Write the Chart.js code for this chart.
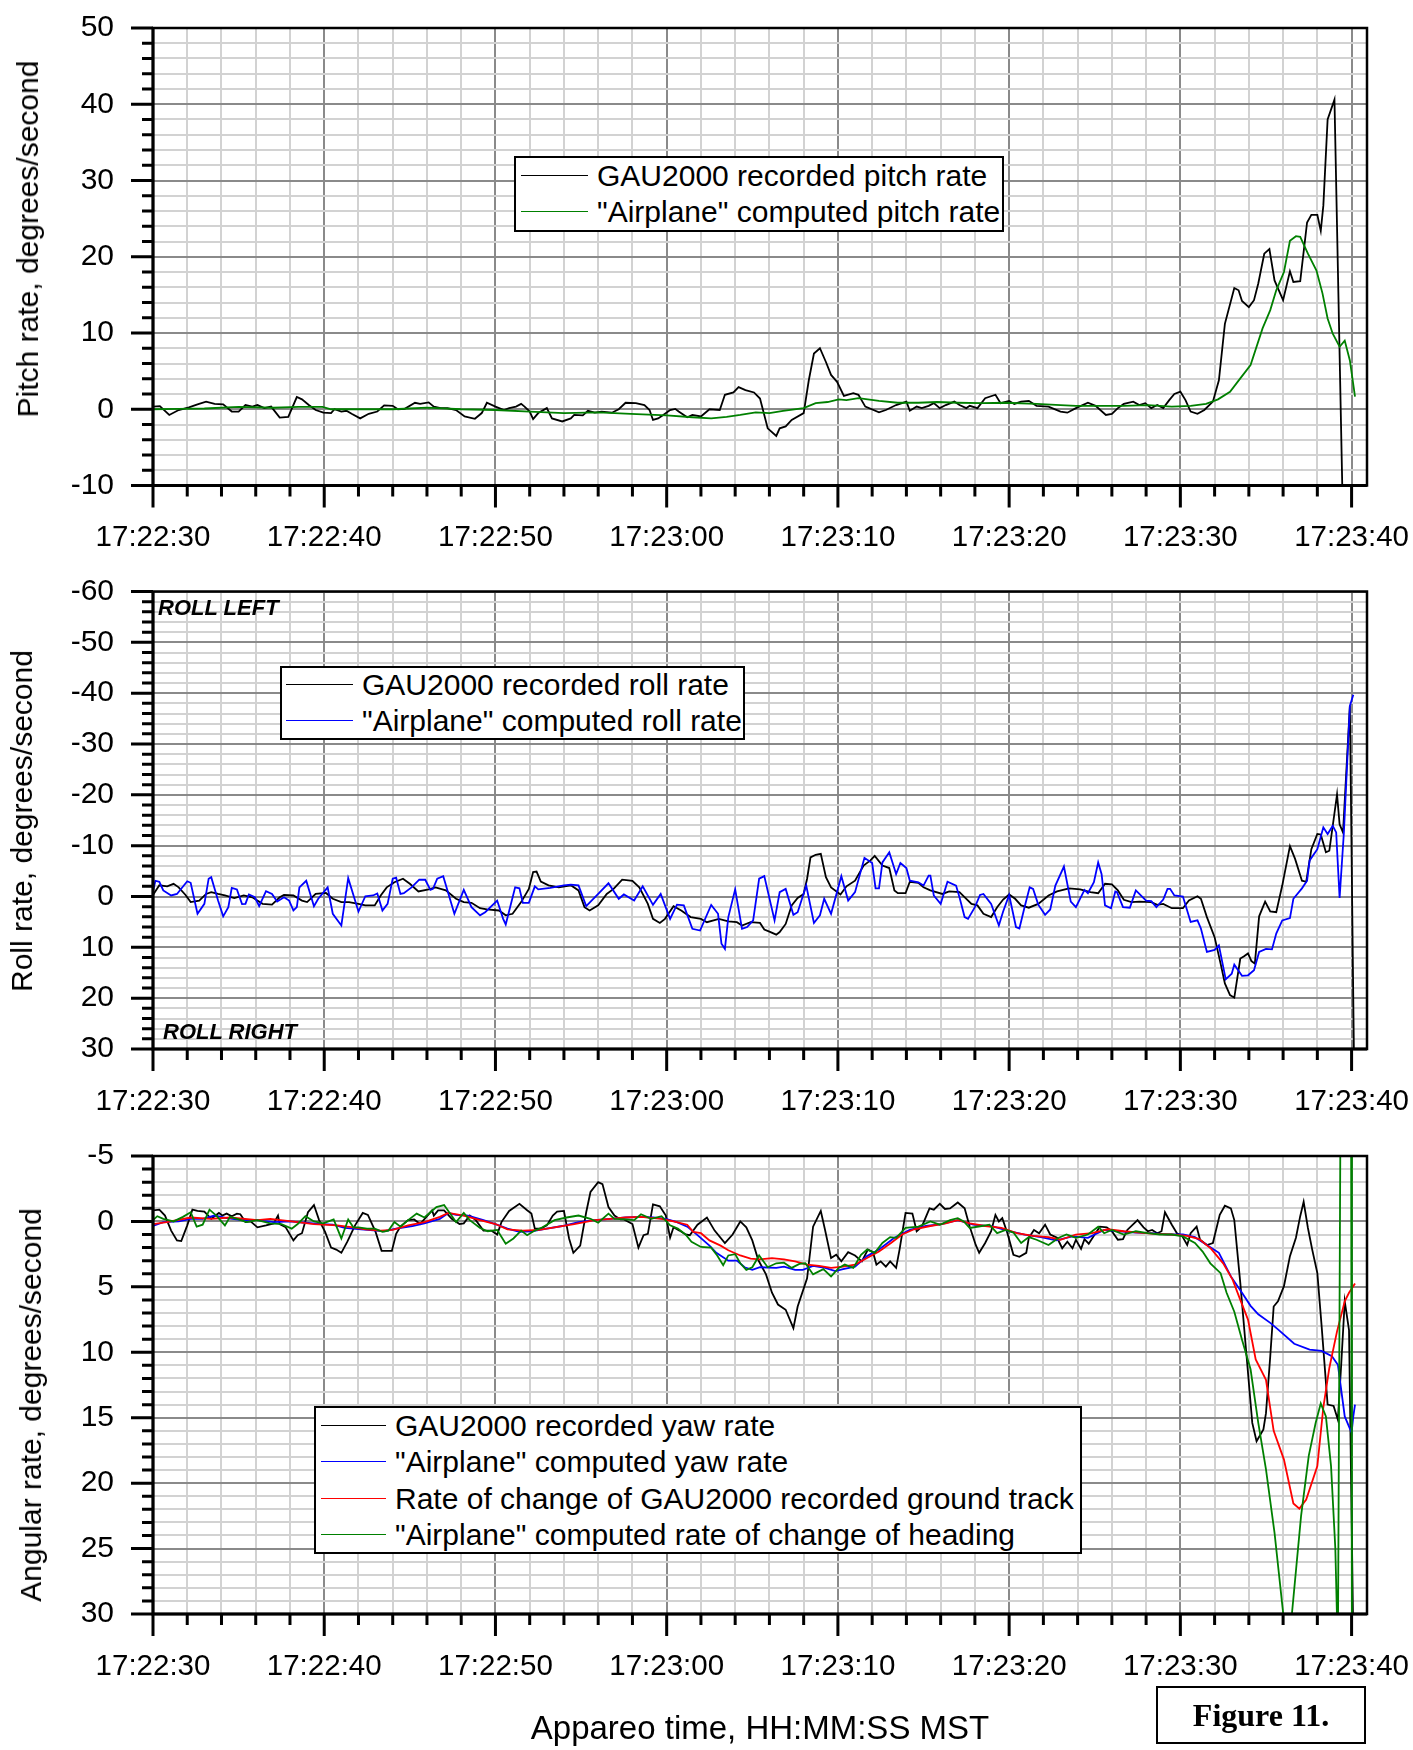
<!DOCTYPE html>
<html>
<head>
<meta charset="utf-8">
<script src="https://cdn.jsdelivr.net/npm/chart.js@4.4.0/dist/chart.umd.min.js"></script>
<style>
  body { margin: 0; background: #fff; }
  #page { position: relative; width: 1413px; height: 1750px; overflow: hidden; font-family: Arial, "Liberation Sans", sans-serif; }
  canvas { position: absolute; left: 0; }
  .legend { position: absolute; background: #fff; border: 2px solid #000; box-sizing: border-box; z-index: 2; }
  .legend .swatch { position: absolute; height: 0; border-top: 1.5px solid #000; }
  .legend .txt { position: absolute; height: 36px; line-height: 36px; font-size: 30px; white-space: nowrap; color: #000; }
  .note { position: absolute; font: italic bold 22px Arial, "Liberation Sans", sans-serif; line-height: 22px; white-space: nowrap; z-index: 2; }
  .ytitle { position: absolute; font-size: 30px; line-height: 30px; white-space: nowrap; transform: translate(-50%, -50%) rotate(-90deg); }
  #fig { position: absolute; left: 1156px; top: 1686px; width: 210px; height: 58px; border: 2px solid #000; box-sizing: border-box;
         font: bold 32px "Liberation Serif", "Times New Roman", serif; text-align: center; line-height: 54px; }
</style>
</head>
<body>
<div id="page">
  <canvas id="pitchChart" width="1413" height="560" style="top:0px"></canvas>
  <canvas id="rollChart" width="1413" height="565" style="top:560px"></canvas>
  <canvas id="yawChart" width="1413" height="625" style="top:1125px"></canvas>
  <div class="note" style="left:158px;top:597px">ROLL LEFT</div>
  <div class="note" style="left:163px;top:1021px">ROLL RIGHT</div>
  <div id="fig">Figure 11.</div>
</div>
<script>
// time in seconds after 17:22:30
const timeTickLabels = ["17:22:30", "17:22:40", "17:22:50", "17:23:00", "17:23:10", "17:23:20", "17:23:30", "17:23:40"]
const X_MAX = 70.9
const FONT = 'Arial, "Liberation Sans", sans-serif'

// pitch rate, deg/s
const pitchGau = [[0,0.35],[0.4,0.4],[0.95,-0.75],[1.5,-0.1],[2.1,0.25],[2.6,0.65],[3.1,1.0],[3.6,0.7],[4.1,0.65],[4.6,-0.3],[5.0,-0.3],[5.4,0.55],[5.8,0.35],[6.1,0.55],[6.5,0.15],[6.9,0.35],[7.4,-1.1],[7.9,-1.0],[8.4,1.6],[8.7,1.3],[9.1,0.55],[9.5,-0.1],[9.95,-0.45],[10.4,-0.5],[10.6,0],[11.0,-0.3],[11.3,-0.2],[11.6,-0.6],[12.1,-1.2],[12.6,-0.6],[13.1,-0.3],[13.5,0.5],[14.0,0.45],[14.3,0],[14.7,0.05],[15.3,0.85],[15.6,0.7],[16.1,0.9],[16.4,0.35],[16.8,0.15],[17.2,0.15],[17.7,-0.1],[18.2,-0.95],[18.8,-1.25],[19.2,-0.5],[19.5,0.85],[20.0,0.35],[20.5,-0.1],[20.8,0.15],[21.2,0.35],[21.5,0.7],[21.7,0.35],[22.0,-0.3],[22.2,-1.3],[22.5,-0.5],[23.0,0.15],[23.3,-1.2],[23.9,-1.6],[24.4,-1.2],[24.6,-0.75],[25.1,-0.8],[25.4,-0.2],[25.8,-0.45],[26.2,-0.3],[26.8,-0.45],[27.2,0],[27.6,0.85],[28.2,0.8],[28.7,0.55],[29.0,-0.1],[29.2,-1.4],[29.5,-1.2],[29.8,-0.75],[30.2,-0.1],[30.5,0.05],[30.7,-0.3],[31.2,-1.05],[31.5,-0.75],[32.0,-0.95],[32.5,0],[33.1,-0.1],[33.4,1.9],[33.9,2.2],[34.2,2.9],[34.6,2.5],[35.1,2.2],[35.45,1.4],[35.9,-2.5],[36.4,-3.5],[36.6,-2.5],[36.95,-2.25],[37.3,-1.4],[38.0,-0.5],[38.3,3.8],[38.6,7.3],[38.95,8.0],[39.3,6.2],[39.6,4.5],[39.95,3.6],[40.35,1.75],[40.9,2.1],[41.2,1.9],[41.6,0.35],[42.4,-0.4],[42.8,-0.1],[43.4,0.55],[44.0,1.0],[44.2,-0.2],[44.6,0.35],[44.9,0.15],[45.3,0.45],[45.6,0.8],[45.95,0.15],[46.3,0.55],[46.8,1.0],[47.1,0.55],[47.5,0.15],[47.7,0.45],[48.15,0.15],[48.6,1.45],[49.2,1.9],[49.5,0.8],[50.0,1.1],[50.3,0.7],[50.7,1.0],[51.15,1.1],[51.6,0.45],[52.3,0.35],[53.0,-0.3],[53.4,-0.45],[53.9,0.15],[54.6,0.85],[55.05,0.45],[55.65,-0.75],[56.0,-0.6],[56.35,0.15],[56.7,0.7],[57.25,1.0],[57.6,0.55],[57.95,0.8],[58.3,0.15],[58.65,0.55],[59.0,0.15],[59.35,1.2],[59.65,2.0],[60.0,2.3],[60.3,1.2],[60.6,-0.3],[61.0,-0.6],[61.4,-0.1],[61.9,1.0],[62.25,3.8],[62.6,11.2],[63.15,15.9],[63.4,15.6],[63.6,14.2],[64.0,13.4],[64.3,14.3],[64.55,16.5],[64.9,20.4],[65.2,21.0],[65.5,16.9],[66.0,14.3],[66.4,18.1],[66.6,16.7],[67.0,16.8],[67.4,24.5],[67.65,25.5],[68.0,25.5],[68.2,23.4],[68.35,26.7],[68.6,38.0],[69.0,40.6],[69.5,-15]]
const pitchAirplane = [[0,0],[1.5,0.05],[3,0.1],[5,0.3],[7,0.2],[8.5,0.3],[9.9,0.3],[10.4,0],[12,0],[14,0],[16,0.2],[18,0],[20,-0.1],[22,-0.3],[24,-0.5],[26,-0.4],[27.9,-0.6],[30,-0.8],[31.5,-1.05],[32.6,-1.2],[33.5,-1.0],[34.3,-0.75],[35.2,-0.4],[36.0,-0.5],[36.8,-0.2],[38.0,0.15],[38.7,0.8],[39.4,0.95],[40.05,1.3],[40.5,1.2],[41.2,1.45],[42.4,1.1],[43.5,0.85],[44.7,0.85],[45.8,0.95],[47.0,0.85],[48.4,0.8],[49.8,0.85],[51.6,0.7],[53.0,0.55],[53.9,0.45],[55.3,0.45],[56.7,0.45],[58.1,0.55],[59.5,0.35],[60.6,0.45],[61.5,0.7],[62.2,1.3],[62.9,2.3],[63.5,4.05],[64.1,5.8],[64.8,10.6],[65.25,13.0],[65.6,15.6],[66.05,18.0],[66.4,22.1],[66.75,22.7],[67.0,22.6],[67.45,20.4],[67.95,18.2],[68.3,15.2],[68.6,11.9],[68.9,9.9],[69.3,8.2],[69.6,9.0],[69.9,6.4],[70.2,1.65]]

// roll rate, deg/s (negative = roll left)
const rollGau = [[0,-0.3],[0.37,-2.2],[0.83,-2.0],[1.2,-2.5],[1.5,-1.8],[1.9,-0.3],[2.2,1.1],[2.7,0.8],[3.1,-0.5],[3.4,-0.85],[3.8,-0.5],[4.2,-0.2],[4.75,0.3],[5.3,-0.2],[5.8,0.15],[6.4,1.45],[6.95,1.6],[7.4,0.15],[7.65,-0.3],[8.2,-0.2],[8.7,0.8],[9.0,1.1],[9.5,-0.5],[10.1,-0.7],[10.5,0.45],[11.0,1.1],[11.45,1.1],[12.0,1.45],[12.4,1.75],[12.95,1.75],[13.3,-0.2],[13.65,-1.8],[14.1,-2.8],[14.6,-3.5],[15.0,-2.5],[15.5,-1.0],[16.1,-1.4],[16.5,-1.8],[17.1,-1.2],[17.7,0.45],[18.15,1.1],[18.6,1.25],[19.1,2.3],[19.5,2.55],[20.2,2.75],[20.6,3.7],[21.0,3.4],[21.5,1.1],[21.95,-1.5],[22.2,-4.8],[22.4,-4.9],[22.65,-2.95],[23.1,-2.2],[23.7,-1.8],[24.4,-2.2],[24.85,-1.2],[25.2,2.1],[25.5,2.75],[26.0,1.75],[26.5,-0.5],[26.9,-1.5],[27.4,-3.3],[28.0,-3.1],[28.4,-1.8],[28.9,1.45],[29.2,4.4],[29.6,5.2],[29.9,4.4],[30.4,1.9],[30.85,2.75],[31.4,4.05],[32.0,4.4],[32.35,5.05],[33.05,4.4],[33.6,4.9],[34.1,5.05],[34.4,5.7],[34.9,5.05],[35.45,5.2],[35.7,6.5],[36.0,6.9],[36.4,7.5],[36.6,7.0],[36.95,5.4],[37.3,1.75],[37.65,0.3],[38.0,-0.5],[38.2,-3.5],[38.4,-7.7],[38.7,-8.2],[39.0,-8.4],[39.3,-3.8],[39.6,-1.8],[40.15,-0.4],[40.5,-2.0],[41.0,-3.1],[41.5,-6.1],[41.9,-7.1],[42.15,-8.0],[42.6,-6.1],[43.0,-5.6],[43.3,-1.2],[43.5,-0.65],[43.95,-0.65],[44.2,-2.9],[44.7,-2.7],[45.0,-1.8],[45.4,-1.2],[46.1,-0.5],[46.5,-1.0],[47.1,-0.85],[47.5,0.45],[47.8,1.45],[48.15,1.75],[48.5,3.4],[48.95,4.05],[49.3,2.1],[49.65,0.6],[50.0,-0.4],[50.35,0.45],[50.7,1.75],[51.15,2.2],[51.7,1.45],[52.3,-0.2],[52.8,-1.0],[53.5,-1.6],[54.15,-1.4],[54.75,-0.85],[55.2,-0.65],[55.6,-2.5],[56.0,-2.4],[56.35,-1.2],[56.7,0.65],[57.15,1.1],[57.6,1.0],[58.3,1.1],[58.65,1.65],[59.0,1.45],[59.5,2.3],[60.15,2.3],[60.5,0.8],[61.0,-0.05],[61.2,0.45],[61.55,4.05],[62.0,8.0],[62.35,13.2],[62.6,17.1],[62.9,19.4],[63.15,19.9],[63.5,12.2],[63.7,11.8],[63.95,11.2],[64.15,12.7],[64.35,13.2],[64.6,3.9],[64.95,1.0],[65.25,2.95],[65.6,3.1],[65.95,-2.15],[66.4,-9.9],[66.7,-7.4],[67.1,-3.1],[67.35,-2.9],[67.65,-9.3],[68.0,-12.3],[68.2,-12.2],[68.5,-8.7],[68.7,-9.0],[69.15,-20.1],[69.3,-14.2],[69.5,-12.6],[69.9,-37.5],[70.15,35]]
const rollAirplane = [[0,-1.0],[0.14,-3.1],[0.37,-2.9],[0.6,-1.2],[1.06,-0.2],[1.4,-0.5],[2.0,-3.0],[2.2,-2.7],[2.6,3.4],[3.0,1.45],[3.25,-3.5],[3.4,-3.8],[3.8,0.8],[4.1,3.9],[4.4,2.1],[4.6,-1.7],[4.9,-1.4],[5.2,1.5],[5.4,1.45],[5.6,-0.4],[5.95,0.15],[6.2,1.9],[6.6,-1.05],[6.95,-0.5],[7.25,1.0],[7.65,0.15],[7.95,0.8],[8.2,2.75],[8.4,2.1],[8.55,-1.8],[8.95,-3.1],[9.4,1.9],[9.65,0.45],[10.2,-1.8],[10.5,3.4],[11.0,5.7],[11.4,-3.6],[12.0,2.95],[12.4,-0.05],[12.85,-0.2],[13.1,-0.6],[13.4,2.75],[13.7,1.45],[14.0,-3.5],[14.2,-3.7],[14.45,-0.5],[14.65,-0.65],[15.1,-1.8],[15.55,-3.3],[15.9,-3.3],[16.2,-1.3],[16.35,-1.5],[16.6,-3.5],[16.95,-4.0],[17.6,3.4],[18.15,-1.3],[18.6,2.1],[19.1,3.7],[19.4,3.1],[20.1,0.8],[20.45,4.4],[20.6,5.5],[21.15,-1.8],[21.4,-1.6],[21.6,1.25],[21.95,1.25],[22.3,-2.0],[22.5,-1.4],[23.2,-1.7],[24.0,-2.2],[24.4,-2.35],[24.85,-2.2],[25.3,1.9],[26.0,-0.5],[26.6,-2.6],[27.2,0.45],[27.5,-0.4],[28.1,0.8],[28.6,-2.0],[29.2,1.65],[29.65,-0.5],[30.2,4.4],[30.6,1.6],[31.0,1.75],[31.5,6.35],[31.95,6.7],[32.6,1.65],[33.0,3.4],[33.2,9.3],[33.4,10.3],[33.6,4.05],[34.0,-1.4],[34.4,6.35],[34.7,6.0],[35.05,4.7],[35.4,-3.5],[35.7,-4.0],[36.3,4.7],[36.6,-0.85],[36.95,-1.5],[37.4,3.6],[37.65,3.1],[38.15,-2.15],[38.6,5.2],[38.95,3.7],[39.2,0.45],[39.6,3.4],[40.2,-4.0],[40.6,0.8],[41.0,-0.85],[41.55,-7.6],[42.0,-6.6],[42.2,-1.6],[42.4,-1.6],[42.6,-6.7],[43.0,-8.7],[43.4,-4.4],[43.65,-6.6],[44.0,-5.6],[44.2,-3.1],[44.7,-2.8],[45.0,-2.15],[45.3,-4.1],[45.4,-4.1],[45.6,-0.2],[46.0,1.45],[46.4,-2.9],[46.9,-2.15],[47.1,0.15],[47.4,4.05],[47.6,4.4],[48.0,2.1],[48.3,-0.3],[48.5,-0.5],[48.95,1.45],[49.4,5.7],[49.65,2.95],[50.0,-0.3],[50.4,6.0],[50.6,6.3],[50.9,2.1],[51.2,-1.8],[51.4,-1.5],[51.7,1.6],[52.1,3.6],[52.4,2.55],[52.7,-2.15],[53.2,-5.9],[53.6,1.0],[53.9,2.1],[54.4,-1.3],[54.6,-0.65],[54.95,-2.8],[55.2,-6.7],[55.4,-4.4],[55.6,1.75],[55.95,2.3],[56.2,-1.0],[56.3,-0.85],[56.65,2.1],[57.05,2.2],[57.4,-1.2],[58.0,0.8],[58.3,0.9],[58.6,2.1],[59.0,0.6],[59.25,-1.5],[59.4,-1.5],[59.65,-0.2],[60.15,0],[60.6,5.0],[61.0,4.7],[61.2,6.3],[61.55,10.9],[62.0,10.5],[62.25,9.6],[62.65,16.3],[63.0,15.2],[63.15,13.4],[63.6,15.6],[63.95,15.5],[64.3,14.5],[64.6,10.9],[65.0,10.3],[65.35,10.4],[65.6,7.3],[65.95,4.7],[66.4,4.25],[66.6,0.45],[67.1,-1.6],[67.4,-3.1],[67.55,-7.1],[68.0,-9.3],[68.35,-13.6],[68.6,-12.3],[68.9,-13.9],[69.1,-12.6],[69.3,0.3],[69.55,-12.6],[69.9,-37.5],[70.1,-39.7]]

// yaw / heading rates, deg/s
const yawGau = [[0,-0.85],[0.37,-0.9],[0.7,-0.45],[1.06,0.7],[1.4,1.45],[1.65,1.5],[2.0,0.3],[2.3,-0.9],[2.6,-0.8],[3.0,-0.75],[3.4,-0.2],[3.6,-0.4],[3.85,-0.65],[4.05,-0.45],[4.3,-0.6],[4.6,-0.4],[4.9,-0.6],[5.1,-0.55],[5.4,0.05],[5.7,0],[6.1,0.45],[6.6,0.3],[7.05,0.15],[7.3,-0.45],[7.4,0.2],[7.75,0.45],[8.2,1.45],[8.45,1.05],[8.7,0.9],[9.05,-0.7],[9.4,-1.25],[9.7,-0.1],[10.05,0.8],[10.4,2.0],[10.7,2.15],[11.0,2.4],[11.35,1.55],[11.8,0.3],[12.25,-0.65],[12.55,-0.5],[13.0,0.8],[13.35,2.25],[13.95,2.25],[14.2,0.95],[14.45,0.4],[14.9,-0.1],[15.25,-0.15],[15.6,0.2],[16.3,-0.85],[16.4,-0.45],[16.65,-0.85],[17.0,-0.85],[17.45,-0.2],[17.9,0.2],[18.15,0.15],[18.5,-0.45],[18.85,-0.1],[19.3,0.7],[19.75,0.7],[20.1,1.0],[20.35,0.05],[20.8,-0.8],[21.4,-1.35],[21.85,-0.85],[22.1,-0.6],[22.3,0.55],[22.65,0.55],[23.0,0.3],[23.35,-0.45],[23.6,-0.75],[24.0,-0.8],[24.3,1.3],[24.55,2.4],[24.95,1.85],[25.3,-0.7],[25.55,-2.25],[26.0,-3.0],[26.25,-2.85],[26.6,-1.1],[26.95,-0.45],[27.3,-0.15],[27.5,-0.15],[28.0,0.2],[28.35,2.0],[28.65,1.05],[28.9,0.95],[29.2,-1.3],[29.6,-1.15],[29.95,-0.45],[30.2,1.25],[30.4,0.45],[30.75,0.7],[31.1,1.0],[31.35,1.05],[31.8,0.25],[32.35,-0.3],[32.8,0.7],[33.4,1.65],[33.85,1.0],[34.3,0],[34.65,0.45],[35.0,1.45],[35.35,2.95],[35.8,4.05],[36.15,5.45],[36.5,6.35],[36.95,6.75],[37.4,8.15],[37.65,6.5],[38.2,4.35],[38.55,0.4],[39.0,-0.8],[39.25,0.65],[39.6,2.8],[39.9,2.55],[40.2,3.05],[40.6,2.35],[41.0,2.6],[41.4,3.05],[41.75,2.15],[42.05,2.35],[42.25,3.3],[42.5,3.05],[42.8,3.45],[43.05,3.05],[43.4,3.55],[43.6,2.15],[43.95,-0.65],[44.35,-0.6],[44.6,0.75],[44.9,0.4],[45.35,-1.0],[45.6,-0.9],[45.95,-1.35],[46.25,-0.95],[46.55,-1.0],[47.0,-1.45],[47.4,-1.0],[47.7,0.4],[48.05,1.8],[48.25,2.4],[48.6,1.65],[48.95,0.75],[49.2,-0.5],[49.4,0],[49.6,-0.25],[49.9,0.9],[50.25,2.55],[50.6,2.7],[51.0,2.4],[51.15,1.25],[51.45,0.65],[51.75,0.9],[52.1,0.25],[52.4,1.0],[52.8,1.25],[53.1,2.05],[53.4,1.55],[53.7,2.05],[53.9,1.4],[54.2,2.1],[54.4,1.35],[54.65,1.7],[54.95,1.1],[55.3,0.4],[55.7,0.45],[56.0,0.75],[56.35,1.4],[56.65,1.35],[56.9,0.65],[57.5,-0.1],[57.85,0.45],[58.1,0.75],[58.35,0.65],[58.65,0.9],[58.9,0.75],[59.1,-0.7],[59.5,0.25],[59.8,0.9],[60.1,1.1],[60.4,1.8],[60.6,0.9],[60.95,0.4],[61.15,1.4],[61.55,1.8],[61.9,1.65],[62.3,-0.5],[62.6,-1.2],[62.95,-1.0],[63.15,-0.1],[63.5,4.7],[63.9,10.8],[64.2,15.4],[64.45,16.8],[64.85,15.9],[65.0,14.65],[65.25,10.3],[65.45,6.5],[65.7,6.1],[66.05,4.95],[66.4,2.65],[66.75,1.25],[67.0,-0.4],[67.2,-1.5],[67.45,0.5],[67.7,2.15],[68.0,3.95],[68.25,8.0],[68.6,14.0],[68.95,14.1],[69.2,15.15],[69.4,10.8],[69.6,6.1],[69.85,8.3],[70.1,32]]
const yawAirplane = [[0,0.35],[0.6,0.05],[1.5,0],[2.2,-0.2],[2.9,-0.2],[3.6,-0.45],[4.3,-0.25],[5.2,-0.1],[6.1,-0.1],[7.05,0.05],[8.0,0],[8.9,0.1],[9.85,0.2],[10.5,0.25],[11.2,0.5],[12.15,0.6],[13.05,0.7],[13.5,0.75],[14.2,0.55],[15.15,0.35],[15.85,0.15],[16.75,-0.2],[17.25,-0.65],[17.7,-0.5],[18.4,-0.45],[19.3,-0.1],[20.0,0.2],[20.7,0.55],[21.4,0.8],[22.1,0.75],[23.0,0.55],[23.9,0.35],[24.85,0.05],[25.8,-0.1],[26.7,-0.2],[27.6,-0.3],[28.5,-0.35],[29.2,-0.3],[29.95,-0.2],[30.6,0.05],[31.2,0.4],[31.8,1.05],[32.5,1.85],[32.9,2.4],[33.6,3.0],[34.1,3.0],[34.55,3.5],[35.0,3.7],[35.45,3.5],[36.4,3.55],[36.85,3.45],[37.5,3.7],[37.95,3.7],[38.55,3.4],[39.25,3.55],[39.85,3.8],[40.3,3.65],[41.0,3.45],[41.7,2.65],[42.4,2.15],[43.3,1.25],[44.2,0.65],[45.15,0.35],[46.05,0.2],[47.0,-0.1],[47.9,0.25],[49.1,0.4],[50.0,0.75],[50.9,1.0],[51.85,1.2],[52.75,1.45],[53.7,1.15],[54.6,1.25],[55.55,0.65],[56.45,0.75],[57.4,0.85],[58.3,0.9],[59.25,1.0],[60.15,1.0],[60.85,1.2],[61.55,1.8],[62.25,2.4],[62.95,4.2],[63.6,5.45],[64.1,6.45],[64.55,7.1],[65.25,7.75],[65.7,8.25],[66.65,9.35],[67.55,9.8],[68.25,9.9],[68.85,10.3],[69.2,10.95],[69.6,14.9],[70.0,16.15],[70.1,14.9],[70.2,14.0]]
const trackRate = [[0,0.2],[0.8,0.05],[2.2,-0.3],[3.4,-0.2],[4.5,-0.3],[6.1,-0.1],[6.85,-0.2],[8.45,0.05],[9.4,0.2],[10.75,0.3],[11.7,0.45],[12.4,0.6],[13.3,0.7],[14.0,0.65],[14.9,0.3],[15.85,0.05],[16.75,-0.35],[17.25,-0.65],[18.15,-0.45],[19.1,-0.1],[20.0,0.2],[20.7,0.6],[21.6,0.7],[22.55,0.65],[23.45,0.45],[24.6,0.2],[25.8,-0.1],[26.7,-0.2],[27.6,-0.3],[28.5,-0.35],[29.7,-0.2],[30.4,0],[31.2,0.25],[31.55,0.8],[32.0,0.9],[32.5,1.45],[33.15,1.85],[33.6,2.2],[34.3,2.6],[34.9,2.85],[35.45,2.9],[36.15,2.8],[36.85,2.9],[37.5,3.05],[38.2,3.3],[38.9,3.4],[39.6,3.55],[40.3,3.45],[41.0,3.3],[41.7,2.8],[42.4,2.3],[43.1,1.65],[43.75,1.0],[44.45,0.6],[45.4,0.35],[46.3,0.15],[47.0,-0.1],[47.7,0.15],[48.6,0.35],[49.55,0.5],[50.45,0.9],[51.4,1.1],[52.3,1.2],[53.0,1.4],[53.9,1.0],[54.85,0.9],[55.75,0.6],[56.7,0.75],[57.6,0.85],[58.55,0.95],[59.45,1.0],[60.4,1.1],[61.1,1.35],[61.8,2.1],[62.5,3.2],[63.05,4.45],[63.5,6.0],[63.95,7.5],[64.4,10.55],[65.0,12.1],[65.45,16.0],[66.05,18.2],[66.6,21.55],[66.95,21.95],[67.35,21.25],[68.0,18.7],[68.35,14.2],[68.7,11.2],[69.15,8.4],[69.6,6.1],[69.85,5.45],[70.2,4.75]]
const headingRate = [[0,-0.1],[0.25,-0.4],[0.6,-0.2],[1.2,0],[1.75,-0.35],[2.2,-0.7],[2.55,0.4],[2.9,0.25],[3.3,-0.9],[3.7,-0.45],[4.2,0.3],[4.5,-0.35],[5.0,-0.15],[5.45,0.05],[6.1,-0.1],[6.85,0.15],[7.5,0.2],[8.1,0.55],[8.45,0.2],[8.9,-0.4],[9.4,0],[9.95,0.15],[10.55,-0.15],[11.0,1.3],[11.4,-0.15],[11.7,0.45],[12.0,0.45],[12.5,0.55],[12.95,0.55],[13.4,0.8],[13.75,0.7],[14.1,0.05],[14.45,0.4],[14.9,-0.1],[15.4,-0.6],[15.85,-0.3],[16.2,-0.7],[16.55,-1.1],[17.0,-1.25],[17.35,-0.6],[17.7,0.05],[18.15,-0.65],[18.5,-0.1],[19.1,0.5],[19.55,0.75],[20.1,0.65],[20.6,1.7],[21.05,1.3],[21.5,0.7],[21.85,1.05],[22.3,0.7],[22.75,0.45],[23.45,-0.1],[24.15,-0.3],[24.85,-0.45],[25.55,-0.2],[26.0,0.1],[26.6,-0.6],[26.95,-0.2],[27.6,-0.15],[28.1,-0.1],[28.5,-0.55],[29.1,-0.2],[29.7,-0.4],[30.2,0.3],[30.65,0.55],[31.1,1.0],[31.45,1.55],[32.0,1.95],[32.6,2.0],[32.95,2.6],[33.3,3.35],[33.6,2.6],[34.0,2.5],[34.3,3.2],[34.65,3.7],[35.0,3.5],[35.4,2.6],[35.9,3.5],[36.4,3.2],[36.85,3.15],[37.3,3.55],[37.75,3.25],[38.1,3.2],[38.55,4.05],[39.15,3.65],[39.6,4.2],[40.05,3.55],[40.4,3.3],[40.9,3.55],[41.35,2.55],[41.7,2.15],[42.15,2.4],[42.6,1.65],[43.05,1.2],[43.4,1.25],[43.95,0.5],[44.7,0.4],[45.4,0],[45.95,0.25],[46.55,-0.1],[47.0,-0.25],[47.35,0],[47.7,0.5],[48.4,0.35],[48.85,0.25],[49.3,0.9],[49.8,0.65],[50.25,0.85],[50.7,1.65],[51.15,1.2],[51.6,1.4],[52.3,1.8],[52.9,1.25],[53.35,1.0],[53.9,1.25],[54.6,1.0],[55.2,0.4],[55.55,0.9],[56.0,0.65],[56.7,1.0],[57.4,0.75],[58.1,0.9],[58.8,1.0],[59.5,1.0],[60.15,1.15],[60.85,1.65],[61.3,2.3],[61.75,3.2],[62.35,3.95],[62.7,5.45],[63.15,6.9],[63.6,9.05],[64.1,11.3],[64.55,15.4],[65.0,18.95],[65.5,23.8],[66.05,30.5],[66.3,31.5],[66.5,30.2],[67.05,22.5],[67.5,17.9],[67.9,15.4],[68.2,13.9],[68.5,14.9],[68.8,18.7],[69.05,25.0],[69.2,33],[69.35,-8],[69.97,-8],[70.02,33]]

const toXY = (pts) => pts.map(([x, y]) => ({ x, y }))

const gridColor = (major) => (c) => {
    if (!c.tick) return "#d2d2d2"
    return Math.round(c.tick.value) % major === 0 ? "#8a8a8a" : "#d2d2d2"
}

// tick marks outside the plot and the frame
const tickMarks = {
    id: "tickMarks",
    afterDraw(chart, args, opts) {
        const { ctx, chartArea: a, scales } = chart
        const xs = scales.x
        const ys = scales.y
        ctx.save()
        ctx.strokeStyle = "#000"
        ctx.lineWidth = 3
        ctx.beginPath()
        xs.ticks.forEach((t) => {
            const px = xs.getPixelForValue(t.value)
            const len = Math.round(t.value) % 10 === 0 ? 22 : 11
            ctx.moveTo(px, a.bottom)
            ctx.lineTo(px, a.bottom + len)
        })
        ys.ticks.forEach((t) => {
            const py = ys.getPixelForValue(t.value)
            const len = Math.round(t.value) % opts.major === 0 ? 22 : 11
            ctx.moveTo(a.left, py)
            ctx.lineTo(a.left - len, py)
        })
        ctx.stroke()
        ctx.lineWidth = 2.5
        ctx.strokeRect(a.left, a.top, a.right - a.left, a.bottom - a.top)
        ctx.lineWidth = 3
        ctx.beginPath()
        ctx.moveTo(a.left, a.top)
        ctx.lineTo(a.left, a.bottom)
        ctx.lineTo(a.right, a.bottom)
        ctx.stroke()
        ctx.restore()
    },
}

const makePanel = (id, cfg) => {
    const datasets = cfg.series.map((s, i) => ({
        label: s.label,
        data: toXY(s.data),
        borderColor: s.color,
        borderWidth: 1.8,
        pointRadius: 0,
        tension: 0,
        clip: 0,
        order: cfg.series.length - i,
    }))
    return new Chart(document.getElementById(id), {
        type: "line",
        data: { datasets },
        plugins: [tickMarks],
        options: {
            responsive: false,
            animation: false,
            events: [],
            layout: { padding: { top: cfg.padTop, right: 46, left: 0, bottom: 0 } },
            plugins: {
                legend: { display: false },
                tooltip: { enabled: false },
                tickMarks: { major: cfg.yMajor },
            },
            scales: {
                x: {
                    type: "linear",
                    min: 0,
                    max: X_MAX,
                    afterFit: (s) => { s.height = cfg.axisHeight },
                    border: { display: false },
                    // the gap between axis and labels comes from an invisible tick length
                    grid: { drawTicks: true, tickLength: 35, tickColor: "rgba(0,0,0,0)", color: gridColor(10), lineWidth: 2 },
                    ticks: {
                        stepSize: 2,
                        includeBounds: false,
                        autoSkip: false,
                        maxRotation: 0,
                        padding: 0,
                        color: "#000",
                        font: { size: 29.5, family: FONT },
                        callback: (v) => (Math.round(v) % 10 === 0 ? timeTickLabels[Math.round(v) / 10] : ""),
                    },
                    title: cfg.xTitle
                        ? { display: true, text: cfg.xTitle, color: "#000", font: { size: 33, family: FONT }, padding: { top: 0, bottom: 0 } }
                        : { display: false },
                },
                y: {
                    type: "linear",
                    min: cfg.yMin,
                    max: cfg.yMax,
                    reverse: cfg.reverse,
                    afterFit: (s) => { s.width = 153 },
                    border: { display: false },
                    grid: { drawTicks: true, tickLength: 39, tickColor: "rgba(0,0,0,0)", color: gridColor(cfg.yMajor), lineWidth: 2 },
                    ticks: {
                        stepSize: cfg.yStep,
                        autoSkip: false,
                        padding: 0,
                        color: "#000",
                        font: { size: 30, family: FONT },
                        callback: (v) => (Math.round(v) % cfg.yMajor === 0 ? String(Math.round(v)) : ""),
                    },
                    title: { display: false },
                },
            },
        },
    })
}

const addYTitle = (text, cx, cy) => {
    const el = document.createElement("div")
    el.className = "ytitle"
    el.style.left = cx + "px"
    el.style.top = cy + "px"
    el.textContent = text
    document.getElementById("page").appendChild(el)
}

const addLegend = (chart, box) => {
    const el = document.createElement("div")
    el.className = "legend"
    el.style.cssText = `left:${box.left}px;top:${box.top}px;width:${box.width}px;height:${box.height}px`
    chart.data.datasets.forEach((ds, i) => {
        const c = box.first + i * box.gap - 2
        const sw = document.createElement("div")
        sw.className = "swatch"
        sw.style.cssText = `left:${box.sx0}px;width:${box.sx1 - box.sx0}px;top:${c - 0.75}px;border-top-color:${ds.borderColor}`
        const tx = document.createElement("div")
        tx.className = "txt"
        tx.style.cssText = `left:${box.tx}px;top:${c - 18}px`
        tx.textContent = ds.label
        el.append(sw, tx)
    })
    document.getElementById("page").appendChild(el)
}

const pitchChart = makePanel("pitchChart", {
    series: [
        { label: "GAU2000 recorded pitch rate", data: pitchGau, color: "#000000" },
        { label: "\"Airplane\" computed pitch rate", data: pitchAirplane, color: "#008000" },
    ],
    yMin: -10, yMax: 50, yStep: 2, yMajor: 10, reverse: false,
    padTop: 28, axisHeight: 74.5,
})

const rollChart = makePanel("rollChart", {
    series: [
        { label: "GAU2000 recorded roll rate", data: rollGau, color: "#000000" },
        { label: "\"Airplane\" computed roll rate", data: rollAirplane, color: "#0000ff" },
    ],
    yMin: -60, yMax: 30, yStep: 2, yMajor: 10, reverse: true,
    padTop: 31.5, axisHeight: 76,
})

const yawChart = makePanel("yawChart", {
    series: [
        { label: "GAU2000 recorded yaw rate", data: yawGau, color: "#000000" },
        { label: "\"Airplane\" computed yaw rate", data: yawAirplane, color: "#0000ff" },
        { label: "Rate of change of GAU2000 recorded ground track", data: trackRate, color: "#ff0000" },
        { label: "\"Airplane\" computed rate of change of heading", data: headingRate, color: "#008000" },
    ],
    yMin: -5, yMax: 30, yStep: 1, yMajor: 5, reverse: true,
    xTitle: "Appareo time, HH:MM:SS MST",
    padTop: 31, axisHeight: 136,
})

addYTitle("Pitch rate, degrees/second", 28, 239)
addYTitle("Roll rate, degrees/second", 22, 821)
addYTitle("Angular rate, degrees/second", 31, 1405)

addLegend(pitchChart, { left: 514, top: 156, width: 490, height: 76, first: 20, gap: 36, sx0: 5, sx1: 72, tx: 81 })
addLegend(rollChart, { left: 280, top: 666, width: 465, height: 74, first: 19, gap: 36.2, sx0: 4, sx1: 71, tx: 80 })
addLegend(yawChart, { left: 314, top: 1406, width: 768, height: 148, first: 19.6, gap: 36.5, sx0: 5, sx1: 70, tx: 79 })
</script>
</body>
</html>
